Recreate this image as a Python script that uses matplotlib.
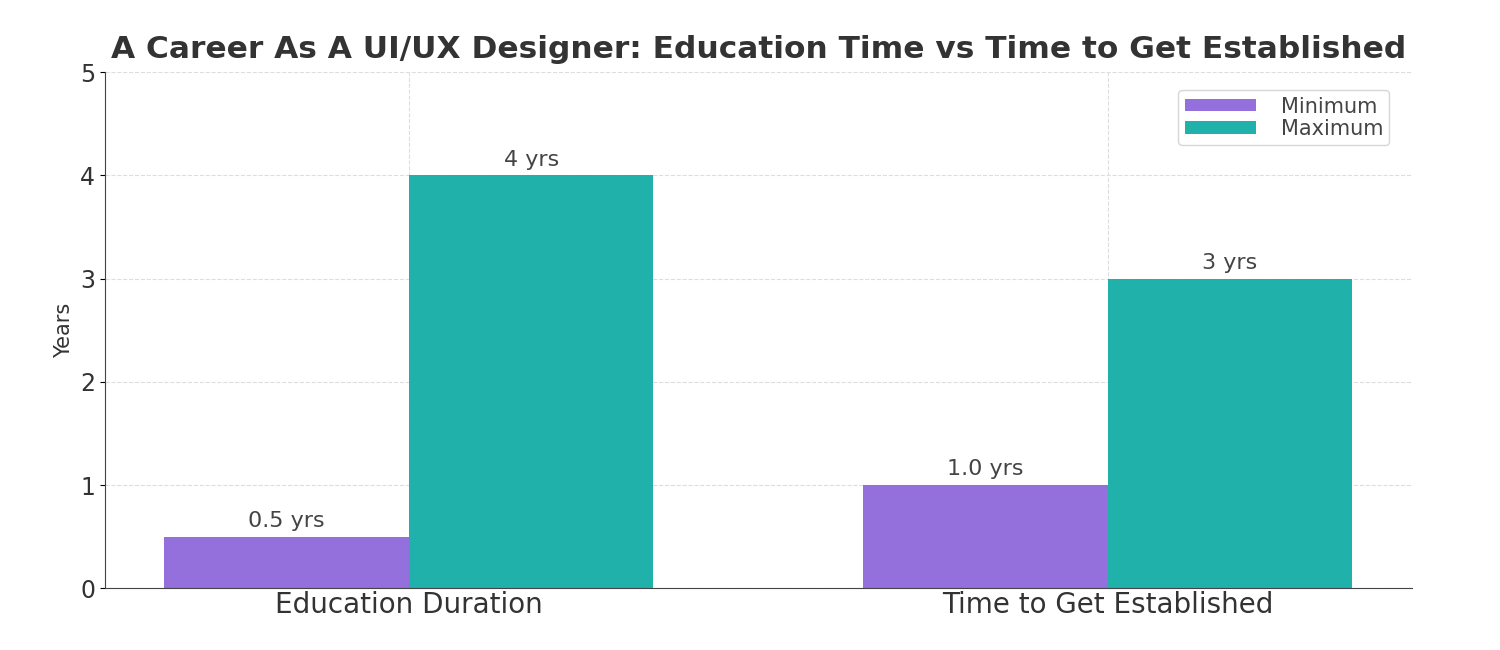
import matplotlib.pyplot as plt
import numpy as np

# Datos
categorias = ['Education Duration', 'Time to Get Established']
minimo = [0.5, 1.0]
maximo = [4, 3]
series = ['Minimum', 'Maximum']
colores = ['#9370DB', '#20B2AA']

x = np.arange(len(categorias))
ancho = 0.35

fig = plt.figure(figsize=(15, 6.5), dpi=100)
ax = fig.add_axes([0.07, 0.095, 0.871, 0.794])

b1 = ax.bar(x - ancho / 2, minimo, ancho, label=series[0], color=colores[0])
b2 = ax.bar(x + ancho / 2, maximo, ancho, label=series[1], color=colores[1])

for barras, vals in [(b1, minimo), (b2, maximo)]:
    ax.bar_label(barras, labels=[f'{v} yrs' for v in vals], padding=4,
                 fontsize=16, color='#444444')

ax.set_ylim(0, 5)
ax.set_xticks(x)
ax.set_xticklabels(categorias, fontsize=20, color='#333333')
ax.tick_params(axis='y', labelsize=17, labelcolor='#333333')
ax.tick_params(axis='x', length=0, pad=2)
ax.set_ylabel('Years', fontsize=15, color='#333333')
ax.set_title('A Career As A UI/UX Designer: Education Time vs Time to Get Established',
             fontsize=22.5, fontweight='bold', color='#333333', pad=10)

ax.grid(True, linestyle='--', color='#dddddd', linewidth=0.8)
ax.set_axisbelow(True)
ax.spines['top'].set_visible(False)
ax.spines['right'].set_visible(False)
ax.spines['left'].set_color('#444444')
ax.spines['bottom'].set_color('#444444')

ax.legend(loc='upper right', fontsize=15, handlelength=3.4, handleheight=0.55,
          labelspacing=0.12, borderpad=0.3, handletextpad=1.2,
          labelcolor='#444444', edgecolor='#cccccc', bbox_to_anchor=(0.991, 0.985))

plt.savefig('out.png')
